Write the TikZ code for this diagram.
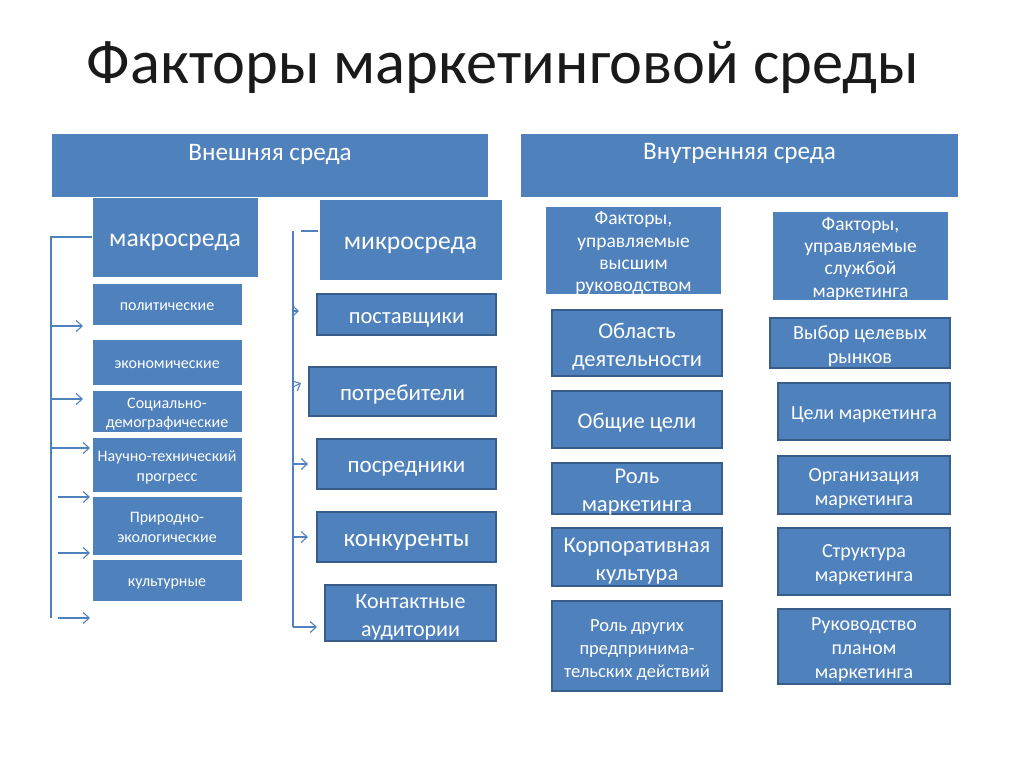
\documentclass[tikz,border=0pt]{standalone}
\usepackage{fontspec}
\setmainfont{Carlito}
\usetikzlibrary{arrows.meta}
\definecolor{ofblue}{HTML}{4F81BD}
\definecolor{ofdark}{HTML}{385D8A}
\definecolor{txtblack}{HTML}{1A1A1A}
\tikzset{
  base/.style={rectangle, fill=ofblue, text=white, inner sep=0pt, outer sep=0pt},
  plain/.style={base, draw=white, line width=0.8pt},
  framed/.style={base, draw=ofdark, line width=1.2pt},
  conn/.style={draw=ofblue, line width=1.1pt},
  arr/.style={conn, -{Straight Barb[length=6pt,width=11pt,line width=1.1pt]}},
}
\newcommand\bx[7]{%
  \node[#6, minimum width={(#4-#2)*1pt}, minimum height={(#5-#3)*1pt}] (#1) at ({(#2+#4)/2},{(#3+#5)/2})
  {\raisebox{\dimexpr -0.525em + 0.2\baselineskip - 2.75pt\relax}[0pt][0pt]{\begin{tabular}{@{}c@{}}#7\end{tabular}}};}
\begin{document}
\frenchspacing
\begin{tikzpicture}[x=1pt,y=-1pt]
\useasboundingbox (0,0) rectangle (1024,767);
\fill[white] (0,0) rectangle (1024,767);

\node[text=txtblack, font=\fontsize{62.4}{66}\selectfont, anchor=center] (title) at (503,68) {Факторы маркетинговой среды};

% top headers
\node[base, anchor=north west, minimum width=436pt, text height=27pt, text depth=36pt, font=\fontsize{25.2}{28}\selectfont] (ext) at (52,134) {Внешняя среда};
\node[base, anchor=north west, minimum width=437pt, text height=26pt, text depth=37pt, font=\fontsize{25.2}{28}\selectfont] (int) at (521,134) {Внутренняя среда};

% macro
\bx{macro}{92}{197}{258}{277}{plain, font=\fontsize{25.6}{28}\selectfont}{макросреда}
\bx{pol}{92}{283}{242}{325}{plain, font=\fontsize{16}{19}\selectfont}{политические}
\bx{eco}{92}{339}{242}{385}{plain, font=\fontsize{16}{19}\selectfont}{экономические}
\bx{soc}{92}{390}{242}{432}{plain, font=\fontsize{16}{19.5}\selectfont}{Социально-\\демографические}
\bx{sci}{92}{437}{242}{492}{plain, font=\fontsize{16}{19.5}\selectfont}{Научно-технический\\прогресс}
\bx{nat}{92}{496}{242}{555}{plain, font=\fontsize{16}{19.5}\selectfont}{Природно-\\экологические}
\bx{cul}{92}{559}{242}{601}{plain, font=\fontsize{16}{19}\selectfont}{культурные}

% micro
\bx{micro}{319}{199}{502}{280}{plain, font=\fontsize{25.6}{28}\selectfont}{микросреда}
\bx{sup}{317}{294}{496}{335}{framed, font=\fontsize{22.6}{26}\selectfont}{поставщики}
\bx{cons}{309}{367}{496}{416}{framed, font=\fontsize{23}{26}\selectfont}{потребители}
\bx{inter}{317}{439}{496}{489}{framed, font=\fontsize{23}{26}\selectfont}{посредники}
\bx{comp}{317}{512}{496}{562}{framed, font=\fontsize{25}{28}\selectfont}{конкуренты}
\bx{aud}{325}{585}{496}{641}{framed, font=\fontsize{22}{28}\selectfont}{Контактные\\аудитории}

% internal columns
\bx{top}{546}{207}{721}{294}{base, font=\fontsize{19.5}{22.3}\selectfont}{Факторы,\\управляемые\\высшим\\руководством}
\bx{mkt}{773}{212}{948}{300}{base, font=\fontsize{19.5}{22.3}\selectfont}{Факторы,\\управляемые\\службой\\маркетинга}

\bx{area}{552}{310}{722}{376}{framed, font=\fontsize{22.5}{28}\selectfont}{Область\\деятельности}
\bx{goals}{552}{391}{722}{448}{framed, font=\fontsize{22.5}{28}\selectfont}{Общие цели}
\bx{role}{552}{463}{722}{514}{framed, font=\fontsize{22.5}{28}\selectfont}{Роль\\маркетинга}
\bx{corp}{552}{528}{722}{586}{framed, font=\fontsize{22.5}{28}\selectfont}{Корпоративная\\культура}
\bx{other}{552}{601}{722}{691}{framed, font=\fontsize{18.5}{23}\selectfont}{Роль других\\предпринима-\\тельских действий}

\bx{target}{770}{318}{950}{368}{framed, font=\fontsize{20.2}{24}\selectfont}{Выбор целевых\\рынков}
\bx{mgoals}{778}{383}{950}{440}{framed, font=\fontsize{20}{24}\selectfont}{Цели маркетинга}
\bx{morg}{778}{456}{950}{514}{framed, font=\fontsize{20}{24}\selectfont}{Организация\\маркетинга}
\bx{mstruct}{778}{528}{950}{595}{framed, font=\fontsize{20}{24}\selectfont}{Структура\\маркетинга}
\bx{mplan}{778}{609}{950}{684}{framed, font=\fontsize{20}{24}\selectfont}{Руководство\\планом\\маркетинга}

% macro connectors
\coordinate (mtop) at (51,237);
\coordinate (mbot) at (51,618);
\draw[conn] (macro.west |- mtop) -- (mtop) -- (mbot);
\draw[arr] (51,326) -- (83,326);
\draw[arr] (51,399) -- (83,399);
\draw[arr] (51,448) -- (90,448);
\draw[arr] (58,497) -- (90,497);
\draw[arr] (58,553) -- (90,553);
\draw[arr] (58,618) -- (90,618);

% micro connectors
\coordinate (ntop) at (293,231);
\coordinate (nbot) at (293,627);
\draw[conn] (318,231) -- (301,231);
\draw[conn] (ntop) -- (nbot);
\draw[arr] (293,311) -- (299,311);
\draw[arr] (293,387) -- (301,383);
\draw[arr] (293,464) -- (308,464);
\draw[arr] (293,537) -- (308,537);
\draw[arr] (nbot) -- (317,627);
\end{tikzpicture}
\end{document}
